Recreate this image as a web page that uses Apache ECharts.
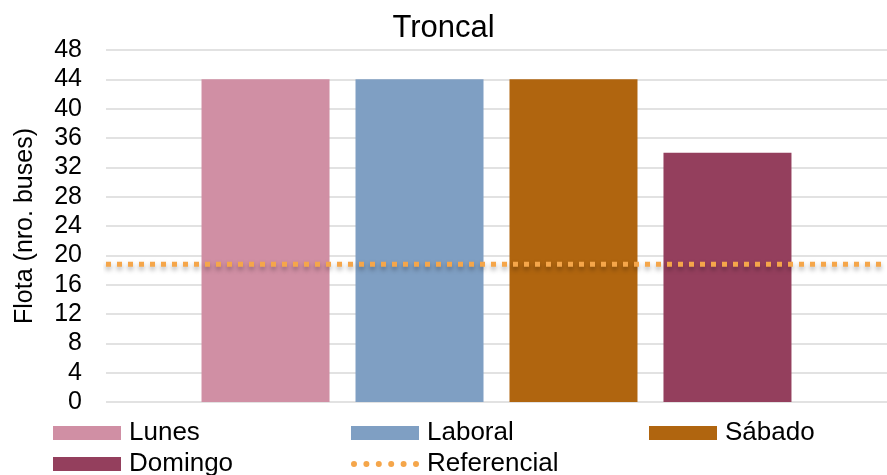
<!DOCTYPE html>
<html>
<head>
<meta charset="utf-8">
<script src="https://cdn.jsdelivr.net/npm/echarts@6/dist/echarts.min.js"></script>
<style>
  html, body { margin: 0; padding: 0; background: #fff; }
  #chart { width: 887px; height: 475px; }
</style>
</head>
<body>
<div id="chart"></div>
<script>
// Fleet size per day type on the trunk route
const categories = ['Troncal'];
const seriesNames = ['Lunes', 'Laboral', 'Sábado', 'Domingo'];
const lunes = [44];
const laboral = [44];
const sabado = [44];
const domingo = [34];
const referencial = [18.8, 18.8];
const yTicks = { min: 0, max: 48, interval: 4 };

const colors = ['#D08FA4', '#7F9FC3', '#B0650F', '#943F5D'];
const refColor = '#F5A64A';
const FONT = '"Liberation Sans", Arial, sans-serif';

const barValues = [lunes, laboral, sabado, domingo];

const barSeries = seriesNames.map((name, i) => ({
  name,
  type: 'bar',
  data: barValues[i],
  barWidth: 128,
  barGap: '20.3%',
  itemStyle: { color: colors[i] },
  silent: true
}));

// dotted reference line across the full plot width
const refSeries = {
  name: 'Referencial',
  type: 'line',
  xAxisIndex: 1,
  data: referencial,
  symbol: 'none',
  silent: true,
  z: 5,
  lineStyle: {
    color: refColor,
    width: 5,
    type: [5, 6],
    cap: 'butt',
    shadowColor: 'rgba(0,0,0,0.35)',
    shadowBlur: 5,
    shadowOffsetY: 3
  }
};

// legend icon for the reference line: six round dots
let dots = '';
for (let k = 0; k < 6; k++) {
  const cx = 3 + k * 12.4;
  dots += `M${cx - 3},3a3,3 0 1,0 6,0a3,3 0 1,0 -6,0Z`;
}

function legendAt(name, left, top, opts) {
  return Object.assign({
    data: [name],
    left,
    top,
    itemWidth: 68,
    itemHeight: 14,
    itemGap: 0,
    padding: 0,
    selectedMode: false,
    icon: 'rect',
    textStyle: { fontFamily: FONT, fontSize: 26, color: '#000', padding: [0, 0, 0, 3] }
  }, opts || {});
}

const chart = echarts.init(document.getElementById('chart'), null, { renderer: 'canvas' });
chart.setOption({
  animation: false,
  backgroundColor: '#fff',
  title: {
    text: 'Troncal',
    left: 'center',
    top: 8,
    textStyle: { fontFamily: FONT, fontSize: 31, fontWeight: 'normal', color: '#000' }
  },
  grid: { left: 106, right: 0, top: 50, bottom: 73, containLabel: false, outerBoundsMode: 'none' },
  legend: [
    legendAt('Lunes', 53, 420),
    legendAt('Laboral', 351, 420),
    legendAt('Sábado', 649, 420),
    legendAt('Domingo', 53, 451),
    legendAt('Referencial', 351, 451, { icon: 'path://' + dots, itemHeight: 6, itemStyle: { color: refColor } })
  ],
  xAxis: [
    {
      type: 'category',
      data: categories,
      axisLine: { show: false },
      axisTick: { show: false },
      axisLabel: { show: false }
    },
    {
      type: 'category',
      data: ['a', 'b'],
      boundaryGap: false,
      show: false
    }
  ],
  yAxis: {
    type: 'value',
    min: yTicks.min,
    max: yTicks.max,
    interval: yTicks.interval,
    name: 'Flota (nro. buses)',
    nameLocation: 'middle',
    nameGap: 68,
    nameRotate: 90,
    nameTextStyle: { fontFamily: FONT, fontSize: 25, color: '#000' },
    axisLine: { show: false },
    axisTick: { show: false },
    axisLabel: { fontFamily: FONT, fontSize: 25, color: '#000', margin: 24 },
    splitLine: { lineStyle: { color: '#D9D9D9', width: 1.5 } }
  },
  series: [...barSeries, refSeries]
});
</script>
</body>
</html>
